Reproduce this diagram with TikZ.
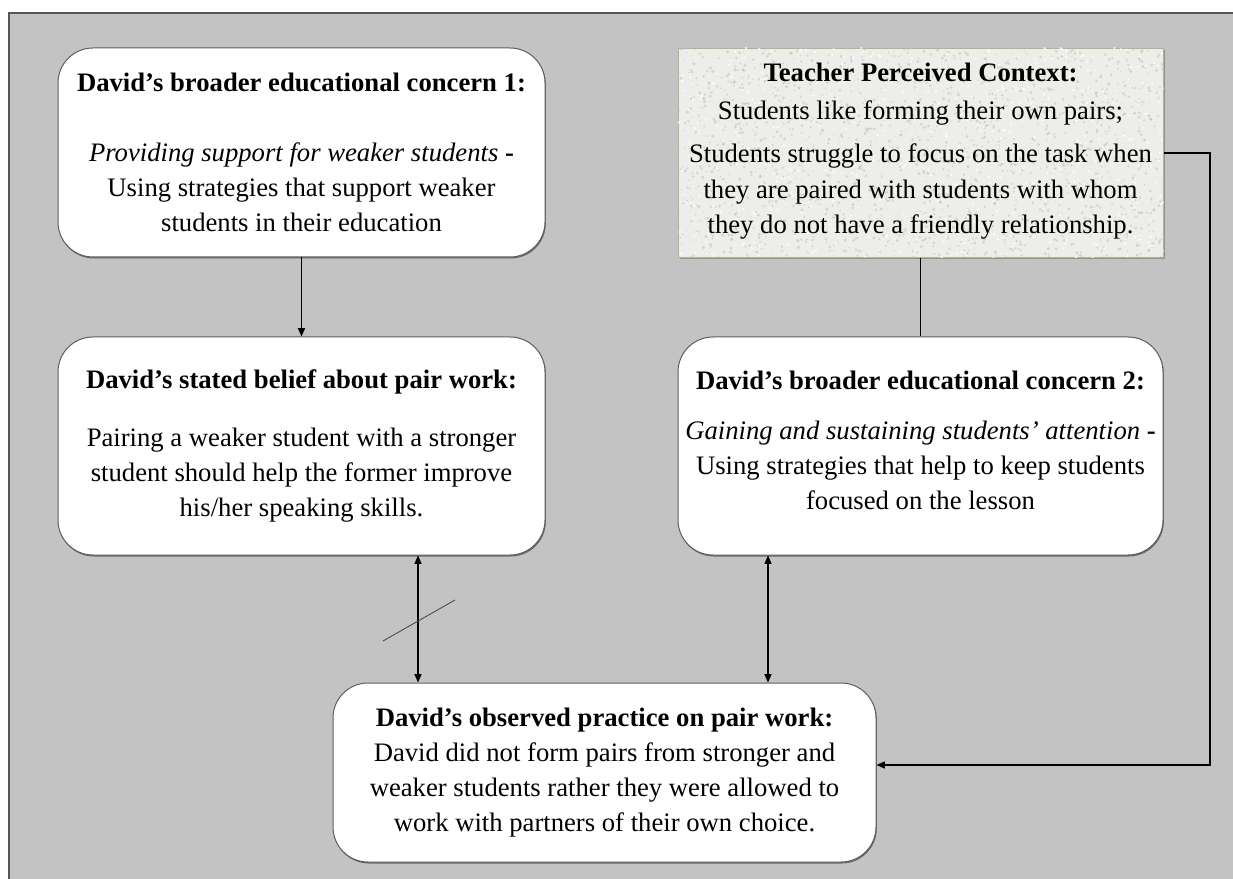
\documentclass[tikz,border=0pt]{standalone}
\usepackage{fontspec}
\setmainfont{Liberation Serif}
\usetikzlibrary{arrows.meta,shadows}

\definecolor{panel}{HTML}{C3C3C3}
\definecolor{panelrule}{HTML}{555555}
\definecolor{boxrule}{HTML}{5E5E5E}
\definecolor{stone}{HTML}{EDEDE9}
\definecolor{stonerule}{HTML}{A9B894}

\tikzset{
  bodytext/.style={font=\fontsize{16}{21}\selectfont, align=center, text=black},
  roundbox/.style={draw=boxrule, line width=0.6pt, fill=white, rounded corners=21pt,
    inner sep=0pt, bodytext,
    drop shadow={shadow xshift=0.5pt, shadow yshift=-0.9pt, fill=black, opacity=0.45}},
  contextbox/.style={draw=stonerule, line width=0.6pt, fill=stone, inner sep=0pt, bodytext,
    drop shadow={shadow xshift=1pt, shadow yshift=-1pt, fill=black, opacity=0.25}},
  link/.style={draw=black, line width=0.75pt},
  arrowtip/.style={-{Triangle[length=5pt,width=4.2pt]}},
  twoway/.style={{Triangle[length=5pt,width=4.2pt]}-{Triangle[length=5pt,width=4.2pt]}},
  strike/.style={draw=gray!55!black, line width=0.5pt}
}

\begin{document}
\begin{tikzpicture}[x=0.6pt, y=-0.6pt]
  \useasboundingbox (0,0) rectangle (1233,879);

  % grey panel behind the diagram
  \draw[fill=panel, draw=panelrule, line width=0.9pt] (9,13) rectangle (1245,895);

  % broader concern 1
  \node[roundbox, minimum width=292.2pt, minimum height=125.4pt] (concernA) at (301.5,152.5)
    {\textbf{David’s broader educational concern 1:}\\[21pt]
     \textit{Providing support for weaker students} \textbf{-}\\
     Using strategies that support weaker\\
     students in their education};

  % teacher perceived context (speckled stone panel)
  \node[contextbox, minimum width=291pt, minimum height=125.4pt] (context) at (920.5,153) {};
  \begin{scope}
    \clip (context.south west) rectangle (context.north east);
    \pgfmathsetseed{17}
    \foreach \k in {1,...,1800}{
      \pgfmathsetmacro{\px}{678+486*rnd}
      \pgfmathsetmacro{\py}{48+210*rnd}
      \pgfmathsetmacro{\pr}{0.5+1.2*rnd}
      \fill[gray!50, opacity=0.55] (\px,\py) circle[radius=\pr];
    }
    \foreach \k in {1,...,600}{
      \pgfmathsetmacro{\px}{678+486*rnd}
      \pgfmathsetmacro{\py}{48+210*rnd}
      \fill[white, opacity=0.85] (\px,\py) circle[radius=1.2];
    }
  \end{scope}
  \node[bodytext] (contextText) at ([yshift=1pt]context.center)
    {\textbf{Teacher Perceived Context:}\\[1.7pt]
     Students like forming their own pairs;\\[4.8pt]
     Students struggle to focus on the task when\\[1pt]
     they are paired with students with whom\\
     they do not have a friendly relationship.};

  % stated belief
  \node[roundbox, minimum width=292.2pt, minimum height=130.8pt] (belief) at (301.5,446)
    {\textbf{David’s stated belief about pair work:}\\[13.5pt]
     Pairing a weaker student with a stronger\\
     student should help the former improve\\
     his/her speaking skills.};

  % broader concern 2
  \node[roundbox, minimum width=291pt, minimum height=130.8pt] (concernB) at (920.5,446) {};
  \node[bodytext] (concernBText) at ([yshift=3.6pt]concernB.center)
    {\textbf{David’s broader educational concern 2:}\\[9pt]
     \textit{Gaining and sustaining students’ attention} \textbf{-}\\
     Using strategies that help to keep students\\
     focused on the lesson};

  % observed practice
  \node[roundbox, minimum width=325.8pt, minimum height=107.4pt] (practice) at (604.5,772.5)
    {\textbf{David’s observed practice on pair work:}\\
     David did not form pairs from stronger and\\
     weaker students rather they were allowed to\\
     work with partners of their own choice.};

  % helper points for connectors
  \coordinate (leftLink) at (418,0);
  \coordinate (rightLink) at (768,0);
  \coordinate (outerBend) at (1210,765);
  \coordinate (strikeA) at (383,641);
  \coordinate (strikeB) at (455,600);

  % connectors
  \draw[link, arrowtip] (concernA.south) -- (belief.north);
  \draw[link] (context.south) -- (concernB.north);
  \draw[link, twoway] (belief.south -| leftLink) -- (practice.north -| leftLink);
  \draw[link, twoway] (concernB.south -| rightLink) -- (practice.north -| rightLink);
  \draw[link, arrowtip] (context.east) -| (outerBend) -- (practice.east |- outerBend);
  \draw[strike] (strikeA) -- (strikeB);
\end{tikzpicture}
\end{document}
